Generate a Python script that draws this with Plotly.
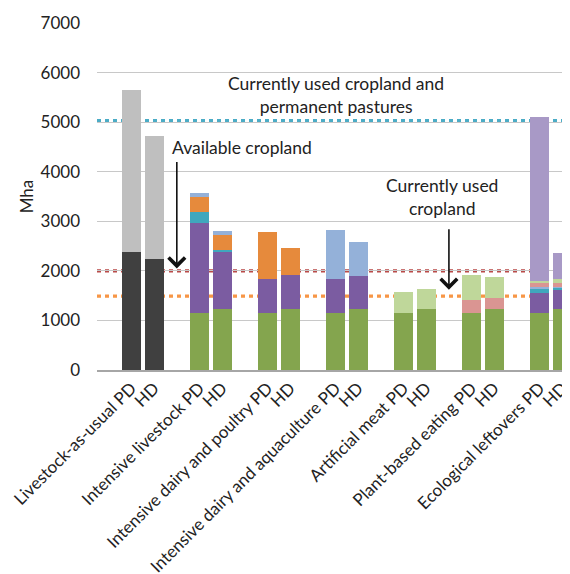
import plotly.graph_objects as go

# ---- data ----
scenarios = ["Livestock-as-usual", "Intensive livestock", "Intensive dairy and poultry",
             "Intensive dairy and aquaculture", "Artificial meat", "Plant-based eating",
             "Ecological leftovers"]
diets = ["PD", "HD"]

# segment heights (Mha), order: PD, HD for each scenario
dark_grey   = [2380, 2240, 0, 0, 0, 0, 0, 0, 0, 0, 0, 0, 0, 0]
light_grey  = [3270, 2480, 0, 0, 0, 0, 0, 0, 0, 0, 0, 0, 0, 0]
green       = [0, 0, 1140, 1235, 1140, 1235, 1140, 1235, 1140, 1235, 1140, 1235, 1140, 1240]
purple      = [0, 0, 1830, 1165, 695, 687, 700, 667, 0, 0, 0, 0, 406, 392]
teal        = [0, 0, 210, 25, 0, 0, 0, 0, 0, 0, 0, 0, 90, 30]
orange      = [0, 0, 300, 290, 955, 538, 0, 0, 0, 0, 0, 0, 0, 0]
light_blue  = [0, 0, 93, 95, 0, 0, 975, 685, 0, 0, 0, 0, 30, 20]
pink        = [0, 0, 0, 0, 0, 0, 0, 0, 0, 0, 278, 217, 100, 80]
light_green = [0, 0, 0, 0, 0, 0, 0, 0, 440, 392, 504, 423, 20, 75]
lavender    = [0, 0, 0, 0, 0, 0, 0, 0, 0, 0, 0, 0, 3321, 520]

ref_values = [5030, 2000, 1490]
ref_colors = ["#4bacc6", "#b94a48", "#f79646"]

y_ticks = [0, 1000, 2000, 3000, 4000, 5000, 6000, 7000]

series = [
    (dark_grey, "#404040"),
    (light_grey, "#bfbfbf"),
    (green, "#84a54e"),
    (purple, "#7b5ca1"),
    (teal, "#3fa7bd"),
    (orange, "#e68a3c"),
    (light_blue, "#94b1d9"),
    (pink, "#da9592"),
    (light_green, "#bfd79a"),
    (lavender, "#a899c6"),
]

# positions: each scenario occupies three slots (PD, HD, gap)
x_pos = []
x_text = []
for i, s in enumerate(scenarios):
    x_pos += [3 * i, 3 * i + 1]
    x_text += [f"{s} PD", "HD"]

FONT = "Lato"
TXT = "#222222"

fig = go.Figure()
for vals, col in series:
    fig.add_trace(go.Bar(x=x_pos, y=vals, marker=dict(color=col, line=dict(width=0)),
                         width=0.84, showlegend=False, hoverinfo="y"))

for v, c in zip(ref_values, ref_colors):
    fig.add_shape(type="line", xref="paper", x0=0, x1=1, yref="y", y0=v, y1=v,
                  line=dict(color=c, width=3.4, dash="4px,4px"), layer="between")

fig.add_annotation(x=9, y=5545, text="Currently used cropland and<br>permanent pastures",
                   showarrow=False, font=dict(family=FONT, size=17.5, color=TXT),
                   xanchor="center", yanchor="middle")
fig.add_annotation(x=1.72, y=4480, text="Available cropland", showarrow=False,
                   font=dict(family=FONT, size=17.5, color=TXT),
                   xanchor="left", yanchor="middle")
fig.add_annotation(x=13.7, y=3490, text="Currently used<br>cropland", showarrow=False,
                   font=dict(family=FONT, size=17.5, color=TXT),
                   xanchor="center", yanchor="middle")
fig.add_annotation(x=2, y=2050, ax=0, ay=-108, text="", showarrow=True,
                   arrowhead=4, arrowsize=2.0, arrowwidth=1.6, arrowcolor="#111111")
fig.add_annotation(x=14, y=1620, ax=0, ay=-62, text="", showarrow=True,
                   arrowhead=4, arrowsize=2.0, arrowwidth=1.6, arrowcolor="#111111")

fig.update_layout(
    width=570, height=574,
    margin=dict(l=89, r=8, t=15, b=212),
    barmode="stack",
    plot_bgcolor="white", paper_bgcolor="white",
    font=dict(family=FONT, size=16, color=TXT),
)
fig.update_xaxes(range=[-1.52, 19.34], tickmode="array", tickvals=x_pos, ticktext=x_text,
                 tickangle=-45, showgrid=False, zeroline=False, showline=True,
                 linecolor="#a6a6a6", linewidth=1.5, ticks="", automargin=False,
                 ticklabeloverflow="allow",
                 tickfont=dict(family=FONT, size=17, color=TXT))
fig.update_yaxes(range=[0, 7000], tickmode="array", tickvals=y_ticks, showgrid=True,
                 gridcolor="#c8c8c8", gridwidth=1, zeroline=False, showline=False,
                 ticks="", ticklabelstandoff=16, automargin=False,
                 tickfont=dict(family=FONT, size=17, color=TXT),
                 title=dict(text="Mha", font=dict(family=FONT, size=17, color=TXT),
                            standoff=2))

fig.write_html("out.html")
